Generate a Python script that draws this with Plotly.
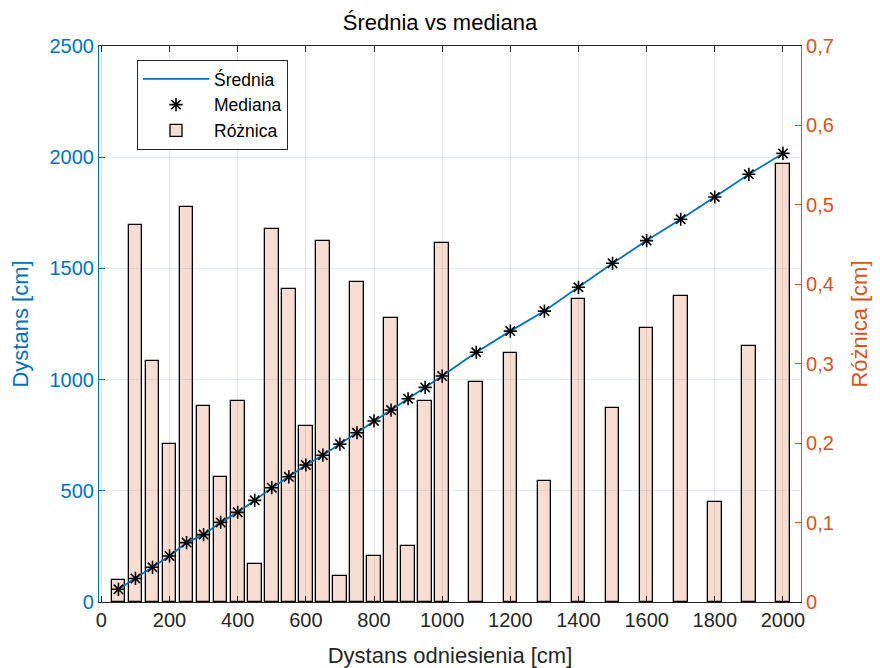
import plotly.graph_objects as go

# Reference distances [cm]
distances = [50, 100, 150, 200, 250, 300, 350, 400, 450, 500,
             550, 600, 650, 700, 750, 800, 850, 900, 950, 1000,
             1100, 1200, 1300, 1400, 1500, 1600, 1700, 1800, 1900, 2000]

# Mean of measured distance [cm]
mean_vals = [57, 106, 156, 207, 267, 303, 358, 403, 457, 514,
             563, 616, 660, 710, 761, 814, 863, 914, 965, 1016,
             1123, 1218, 1308, 1415, 1523, 1625, 1721, 1821, 1923, 2017]

# Median of measured distance [cm]
median_vals = [57, 106, 156, 207, 267, 303, 358, 403, 457, 514,
               563, 616, 660, 710, 761, 814, 863, 914, 965, 1016,
               1123, 1218, 1308, 1415, 1523, 1625, 1721, 1821, 1923, 2017]

# Absolute difference between mean and median [cm]
diff_vals = [0.028, 0.475, 0.303, 0.199, 0.497, 0.247, 0.157, 0.253, 0.048, 0.470,
             0.394, 0.222, 0.455, 0.033, 0.403, 0.058, 0.358, 0.071, 0.253, 0.452,
             0.277, 0.314, 0.152, 0.381, 0.244, 0.345, 0.385, 0.126, 0.322, 0.552]

x_ticks = [0, 200, 400, 600, 800, 1000, 1200, 1400, 1600, 1800, 2000]

BLUE = "#0072BD"
ORANGE = "#D95319"
DARK = "#262626"
FONT = "Liberation Sans, Arial, sans-serif"

fig = go.Figure()

fig.add_trace(go.Bar(
    x=distances, y=diff_vals, width=40, name="Różnica",
    marker=dict(color="rgba(217,83,25,0.2)", line=dict(color="black", width=1.3)),
    yaxis="y", legendrank=3,
))

fig.add_trace(go.Scatter(
    x=distances, y=mean_vals, mode="lines", name="Średnia",
    line=dict(color=BLUE, width=1.8),
    yaxis="y2", legendrank=1,
))

fig.add_trace(go.Scatter(
    x=distances, y=median_vals, mode="markers", name="Mediana",
    marker=dict(symbol="asterisk-open", size=11, color="black",
                line=dict(color="black", width=1.6)),
    yaxis="y2", legendrank=2,
))

fig.update_layout(
    width=880, height=668,
    margin=dict(l=99, r=79, t=46, b=66),
    paper_bgcolor="white", plot_bgcolor="white",
    separators=",.",
    font=dict(family=FONT, size=20, color=DARK),
    title=dict(text="Średnia vs mediana", x=0.5, xanchor="center",
               y=1 - 22 / 668, yanchor="middle",
               font=dict(family=FONT, size=22, color="black")),
    bargap=0,
    showlegend=True,
    legend=dict(x=(137 - 99) / 702, y=(602 - 60) / 556, xanchor="left", yanchor="top",
                bgcolor="white", bordercolor=DARK, borderwidth=1,
                font=dict(family=FONT, size=17.5, color="black"),
                itemwidth=66, tracegroupgap=0),
    xaxis=dict(
        range=[-7, 2053], tickvals=x_ticks, ticks="inside", ticklen=6,
        tickcolor=DARK, showline=True, linecolor=DARK, linewidth=1,
        mirror="ticks", showgrid=True, gridcolor="rgba(38,38,38,0.13)",
        zeroline=False, tickfont=dict(size=20, color=DARK), automargin=False,
        title=dict(text="Dystans odniesienia [cm]", font=dict(size=22, color=DARK), standoff=17),
    ),
    yaxis=dict(
        side="right", range=[0, 0.7], dtick=0.1, tick0=0,
        ticks="inside", ticklen=6, tickcolor=ORANGE,
        showline=True, linecolor=ORANGE, linewidth=1.2,
        showgrid=False, zeroline=False, automargin=False,
        tickfont=dict(size=20, color=ORANGE),
        title=dict(text="Różnica [cm]", font=dict(size=22, color=ORANGE), standoff=18),
    ),
    yaxis2=dict(
        overlaying="y", side="left", range=[0, 2500], dtick=500, tick0=0,
        ticks="inside", ticklen=6, tickcolor=BLUE,
        showline=True, linecolor=BLUE, linewidth=1.2,
        showgrid=True, gridcolor="rgba(0,114,189,0.13)", zeroline=False, automargin=False,
        tickfont=dict(size=20, color=BLUE),
        title=dict(text="Dystans [cm]", font=dict(size=22, color=BLUE), standoff=14),
    ),
)

fig.write_html("out.html")
